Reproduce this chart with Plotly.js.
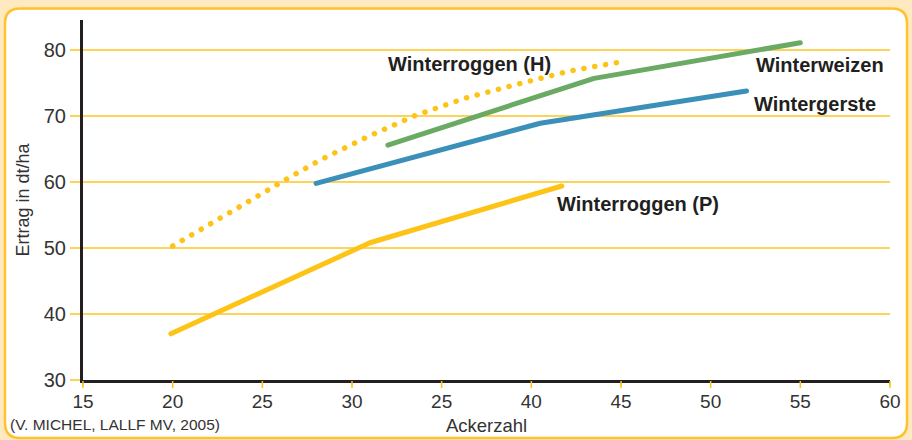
<!DOCTYPE html>
<html>
<head>
<meta charset="utf-8">
<script src="https://cdn.plot.ly/plotly-3.0.1.min.js"></script>
<style>
  html, body { margin: 0; padding: 0; background: #fee9c1; }
  #chart .js-line { stroke-linecap: round !important; stroke-linejoin: round !important; }
</style>
</head>
<body>
<div id="chart" style="width:912px;height:440px;"></div>
<script>
// ---- data ----
const xTickVals = [15, 20, 25, 30, 35, 40, 45, 50, 55, 60];
const xTickText = ['15', '20', '25', '30', '25', '40', '45', '50', '55', '60'];
const yTickVals = [30, 40, 50, 60, 70, 80];

const roggenH_x = [20, 22.6, 24.1, 26.2, 28.2, 30.9, 33.55, 36.3, 39.2, 42.1, 45];
const roggenH_y = [50.3, 54.5, 57, 60.2, 63.3, 66.9, 70.1, 72.7, 74.8, 76.8, 78.2];

const weizen_x = [32, 43.5, 55];
const weizen_y = [65.6, 75.7, 81.1];

const gerste_x = [28, 40.5, 52];
const gerste_y = [59.8, 68.9, 73.8];

const roggenP_x = [19.9, 31, 41.7];
const roggenP_y = [37.0, 50.8, 59.4];

const seriesNames = ['Winterroggen (H)', 'Winterweizen', 'Wintergerste', 'Winterroggen (P)'];

// ---- styling ----
const YELLOW = '#fdc317', GREEN = '#6aaa62', BLUE = '#3a90b8';
const GRID = '#fdd35a', BORDER = '#fdc22c', PEACH = '#fee9c1';
const FONT = 'Liberation Sans, Arial, Helvetica, sans-serif';

const traces = [
  { x: roggenH_x, y: roggenH_y, name: seriesNames[0], mode: 'lines',
    line: { color: YELLOW, width: 5.5, dash: '0.1px,10.9px' } },
  { x: weizen_x, y: weizen_y, name: seriesNames[1], mode: 'lines',
    line: { color: GREEN, width: 5 } },
  { x: gerste_x, y: gerste_y, name: seriesNames[2], mode: 'lines',
    line: { color: BLUE, width: 5 } },
  { x: roggenP_x, y: roggenP_y, name: seriesNames[3], mode: 'lines',
    line: { color: YELLOW, width: 5 } }
];

// plot area in pixels: x 83..890, y 20..380
const L = 83, R = 890, T = 20, B = 380;
const X0 = 15, X1 = 60;
const px = v => (v - L) / (R - L);
const py = v => (B - v) / (B - T);
// rounded panel
const x0 = px(5), x1 = px(907), y0 = py(438), y1 = py(8.5);
const rx = 15 / (R - L), ry = 15 / (B - T);
const panelPath = `M ${x0 + rx},${y1} L ${x1 - rx},${y1} Q ${x1},${y1} ${x1},${y1 - ry} ` +
  `L ${x1},${y0 + ry} Q ${x1},${y0} ${x1 - rx},${y0} L ${x0 + rx},${y0} Q ${x0},${y0} ${x0},${y0 + ry} ` +
  `L ${x0},${y1 - ry} Q ${x0},${y1} ${x0 + rx},${y1} Z`;

const shapes = [
  { type: 'path', xref: 'paper', yref: 'paper', path: panelPath, layer: 'below',
    fillcolor: '#ffffff', line: { color: BORDER, width: 2.5 } }
];
// yellow x tick marks below the axis line
xTickVals.forEach(v => {
  const xp = (v - X0) / (X1 - X0);
  shapes.push({ type: 'line', xref: 'paper', yref: 'paper', x0: xp, x1: xp,
    y0: py(381), y1: py(388), line: { color: YELLOW, width: 1.5 }, layer: 'above' });
});

const labelFont = { family: FONT, size: 20, color: '#231f20', weight: 'bold' };

const layout = {
  width: 912, height: 440,
  margin: { l: L, r: 912 - R, t: T, b: 440 - B, pad: 0 },
  paper_bgcolor: PEACH,
  plot_bgcolor: 'rgba(0,0,0,0)',
  showlegend: false,
  font: { family: FONT, size: 19, color: '#333' },
  xaxis: {
    range: [X0, X1], tickmode: 'array', tickvals: xTickVals, ticktext: xTickText,
    showgrid: false, zeroline: false,
    showline: true, linecolor: '#231f20', linewidth: 3,
    ticks: 'outside', ticklen: 2, tickwidth: 1.5, tickcolor: YELLOW,
    tickfont: { family: FONT, size: 19, color: '#333' },
    title: { text: 'Ackerzahl', font: { family: FONT, size: 18.5, color: '#333' }, standoff: 9 },
    automargin: false, fixedrange: true
  },
  yaxis: {
    range: [30, 84.55], tickmode: 'array', tickvals: yTickVals,
    showgrid: true, gridcolor: GRID, gridwidth: 1.5, zeroline: false,
    showline: true, linecolor: '#231f20', linewidth: 3,
    ticks: 'outside', ticklen: 10, tickwidth: 1.5, tickcolor: GRID,
    tickfont: { family: FONT, size: 20, color: '#333' },
    title: { text: 'Ertrag in dt/ha', font: { family: FONT, size: 18, color: '#333' }, standoff: 10 },
    automargin: false, fixedrange: true
  },
  shapes: shapes,
  annotations: [
    { text: seriesNames[0], x: 31.9, y: 77.9, xref: 'x', yref: 'y', xanchor: 'left', yanchor: 'middle', showarrow: false, font: labelFont },
    { text: seriesNames[1], x: 52.42, y: 77.7, xref: 'x', yref: 'y', xanchor: 'left', yanchor: 'middle', showarrow: false, font: labelFont },
    { text: seriesNames[2], x: 52.3, y: 71.8, xref: 'x', yref: 'y', xanchor: 'left', yanchor: 'middle', showarrow: false, font: labelFont },
    { text: seriesNames[3], x: 41.3, y: 56.7, xref: 'x', yref: 'y', xanchor: 'left', yanchor: 'middle', showarrow: false, font: labelFont },
    { text: '(V. MICHEL, LALLF MV, 2005)', x: px(8), y: py(424), xref: 'paper', yref: 'paper',
      xanchor: 'left', yanchor: 'middle', showarrow: false, font: { family: FONT, size: 15.5, color: '#333' } }
  ]
};

Plotly.newPlot('chart', traces, layout, { displayModeBar: false, staticPlot: true }).then(gd => {
  gd.querySelectorAll('.scatterlayer .js-line').forEach(p => {
    p.style.strokeLinecap = 'round';
    p.style.strokeLinejoin = 'round';
  });
});
</script>
</body>
</html>
